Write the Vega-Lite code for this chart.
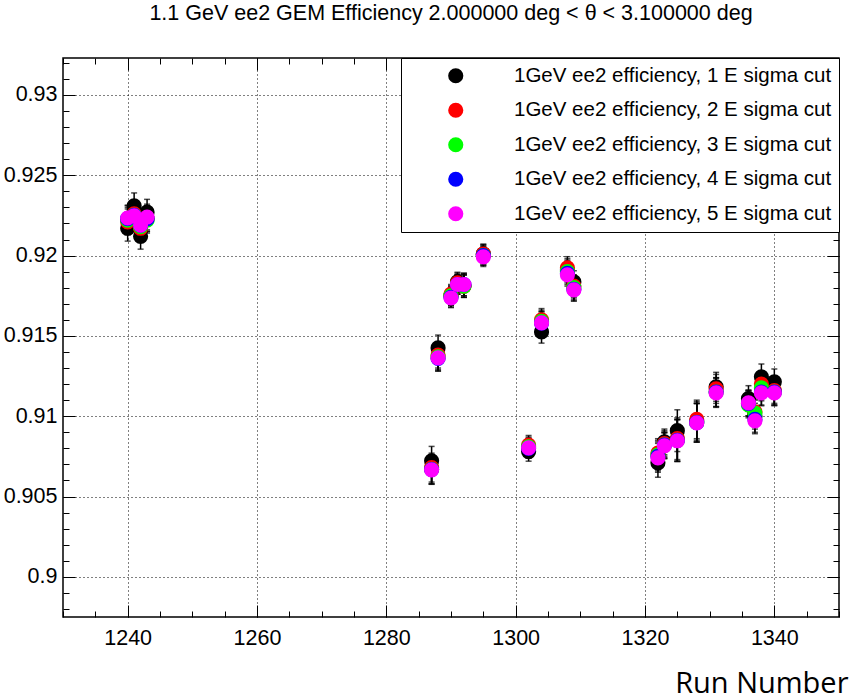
{
  "$schema": "https://vega.github.io/schema/vega-lite/v6.json",
  "width": 776,
  "height": 559,
  "autosize": {"type": "none"},
  "padding": {"left": 63, "top": 58, "right": 12, "bottom": 83},
  "background": "white",
  "config": {"view": {"stroke": "black", "strokeWidth": 1.5}, "font": "Liberation Sans"},
  "title": {"text": "1.1 GeV ee2 GEM Efficiency 2.000000 deg < θ < 3.100000 deg", "font": "Liberation Sans", "fontSize": 21.5, "fontWeight": "normal", "anchor": "middle", "offset": 33, "color": "black"},
  "data": {"values": [
    {"run": 1240, "cut": "1GeV ee2 efficiency, 1 E sigma cut", "eff": 0.9217, "err": 0.0008},
    {"run": 1241, "cut": "1GeV ee2 efficiency, 1 E sigma cut", "eff": 0.9231, "err": 0.0008},
    {"run": 1242, "cut": "1GeV ee2 efficiency, 1 E sigma cut", "eff": 0.9212, "err": 0.0008},
    {"run": 1243, "cut": "1GeV ee2 efficiency, 1 E sigma cut", "eff": 0.9227, "err": 0.0008},
    {"run": 1287, "cut": "1GeV ee2 efficiency, 1 E sigma cut", "eff": 0.90722, "err": 0.0009},
    {"run": 1288, "cut": "1GeV ee2 efficiency, 1 E sigma cut", "eff": 0.91425, "err": 0.0008},
    {"run": 1290, "cut": "1GeV ee2 efficiency, 1 E sigma cut", "eff": 0.9175, "err": 0.0006},
    {"run": 1291, "cut": "1GeV ee2 efficiency, 1 E sigma cut", "eff": 0.91836, "err": 0.0006},
    {"run": 1292, "cut": "1GeV ee2 efficiency, 1 E sigma cut", "eff": 0.9181, "err": 0.0007},
    {"run": 1295, "cut": "1GeV ee2 efficiency, 1 E sigma cut", "eff": 0.9201, "err": 0.0006},
    {"run": 1302, "cut": "1GeV ee2 efficiency, 1 E sigma cut", "eff": 0.9078, "err": 0.0006},
    {"run": 1304, "cut": "1GeV ee2 efficiency, 1 E sigma cut", "eff": 0.91525, "err": 0.0007},
    {"run": 1308, "cut": "1GeV ee2 efficiency, 1 E sigma cut", "eff": 0.9191, "err": 0.0007},
    {"run": 1309, "cut": "1GeV ee2 efficiency, 1 E sigma cut", "eff": 0.91836, "err": 0.0007},
    {"run": 1322, "cut": "1GeV ee2 efficiency, 1 E sigma cut", "eff": 0.9071, "err": 0.0009},
    {"run": 1323, "cut": "1GeV ee2 efficiency, 1 E sigma cut", "eff": 0.9084, "err": 0.0008},
    {"run": 1325, "cut": "1GeV ee2 efficiency, 1 E sigma cut", "eff": 0.9091, "err": 0.0013},
    {"run": 1328, "cut": "1GeV ee2 efficiency, 1 E sigma cut", "eff": 0.9097, "err": 0.0012},
    {"run": 1331, "cut": "1GeV ee2 efficiency, 1 E sigma cut", "eff": 0.91183, "err": 0.0009},
    {"run": 1336, "cut": "1GeV ee2 efficiency, 1 E sigma cut", "eff": 0.9111, "err": 0.0008},
    {"run": 1337, "cut": "1GeV ee2 efficiency, 1 E sigma cut", "eff": 0.91, "err": 0.0008},
    {"run": 1338, "cut": "1GeV ee2 efficiency, 1 E sigma cut", "eff": 0.91245, "err": 0.0008},
    {"run": 1340, "cut": "1GeV ee2 efficiency, 1 E sigma cut", "eff": 0.91214, "err": 0.0008},
    {"run": 1240, "cut": "1GeV ee2 efficiency, 2 E sigma cut", "eff": 0.9221, "err": 0.0008},
    {"run": 1241, "cut": "1GeV ee2 efficiency, 2 E sigma cut", "eff": 0.9226, "err": 0.0008},
    {"run": 1242, "cut": "1GeV ee2 efficiency, 2 E sigma cut", "eff": 0.9217, "err": 0.0008},
    {"run": 1243, "cut": "1GeV ee2 efficiency, 2 E sigma cut", "eff": 0.9223, "err": 0.0008},
    {"run": 1287, "cut": "1GeV ee2 efficiency, 2 E sigma cut", "eff": 0.9068, "err": 0.0009},
    {"run": 1288, "cut": "1GeV ee2 efficiency, 2 E sigma cut", "eff": 0.9138, "err": 0.0008},
    {"run": 1290, "cut": "1GeV ee2 efficiency, 2 E sigma cut", "eff": 0.9176, "err": 0.0006},
    {"run": 1291, "cut": "1GeV ee2 efficiency, 2 E sigma cut", "eff": 0.9183, "err": 0.0006},
    {"run": 1292, "cut": "1GeV ee2 efficiency, 2 E sigma cut", "eff": 0.9181, "err": 0.0007},
    {"run": 1295, "cut": "1GeV ee2 efficiency, 2 E sigma cut", "eff": 0.9201, "err": 0.0006},
    {"run": 1302, "cut": "1GeV ee2 efficiency, 2 E sigma cut", "eff": 0.9082, "err": 0.0006},
    {"run": 1304, "cut": "1GeV ee2 efficiency, 2 E sigma cut", "eff": 0.916, "err": 0.0007},
    {"run": 1308, "cut": "1GeV ee2 efficiency, 2 E sigma cut", "eff": 0.91923, "err": 0.0007},
    {"run": 1309, "cut": "1GeV ee2 efficiency, 2 E sigma cut", "eff": 0.9181, "err": 0.0007},
    {"run": 1322, "cut": "1GeV ee2 efficiency, 2 E sigma cut", "eff": 0.9077, "err": 0.0009},
    {"run": 1323, "cut": "1GeV ee2 efficiency, 2 E sigma cut", "eff": 0.9083, "err": 0.0008},
    {"run": 1325, "cut": "1GeV ee2 efficiency, 2 E sigma cut", "eff": 0.9086, "err": 0.0013},
    {"run": 1328, "cut": "1GeV ee2 efficiency, 2 E sigma cut", "eff": 0.9098, "err": 0.0012},
    {"run": 1331, "cut": "1GeV ee2 efficiency, 2 E sigma cut", "eff": 0.9117, "err": 0.0009},
    {"run": 1336, "cut": "1GeV ee2 efficiency, 2 E sigma cut", "eff": 0.9108, "err": 0.0008},
    {"run": 1337, "cut": "1GeV ee2 efficiency, 2 E sigma cut", "eff": 0.91027, "err": 0.0008},
    {"run": 1338, "cut": "1GeV ee2 efficiency, 2 E sigma cut", "eff": 0.912, "err": 0.0008},
    {"run": 1340, "cut": "1GeV ee2 efficiency, 2 E sigma cut", "eff": 0.9116, "err": 0.0008},
    {"run": 1240, "cut": "1GeV ee2 efficiency, 3 E sigma cut", "eff": 0.9222, "err": 0.0008},
    {"run": 1241, "cut": "1GeV ee2 efficiency, 3 E sigma cut", "eff": 0.9225, "err": 0.0008},
    {"run": 1242, "cut": "1GeV ee2 efficiency, 3 E sigma cut", "eff": 0.9218, "err": 0.0008},
    {"run": 1243, "cut": "1GeV ee2 efficiency, 3 E sigma cut", "eff": 0.9222, "err": 0.0008},
    {"run": 1287, "cut": "1GeV ee2 efficiency, 3 E sigma cut", "eff": 0.9067, "err": 0.0009},
    {"run": 1288, "cut": "1GeV ee2 efficiency, 3 E sigma cut", "eff": 0.9137, "err": 0.0008},
    {"run": 1290, "cut": "1GeV ee2 efficiency, 3 E sigma cut", "eff": 0.9175, "err": 0.0006},
    {"run": 1291, "cut": "1GeV ee2 efficiency, 3 E sigma cut", "eff": 0.9182, "err": 0.0006},
    {"run": 1292, "cut": "1GeV ee2 efficiency, 3 E sigma cut", "eff": 0.9181, "err": 0.0007},
    {"run": 1295, "cut": "1GeV ee2 efficiency, 3 E sigma cut", "eff": 0.92, "err": 0.0006},
    {"run": 1302, "cut": "1GeV ee2 efficiency, 3 E sigma cut", "eff": 0.9081, "err": 0.0006},
    {"run": 1304, "cut": "1GeV ee2 efficiency, 3 E sigma cut", "eff": 0.9159, "err": 0.0007},
    {"run": 1308, "cut": "1GeV ee2 efficiency, 3 E sigma cut", "eff": 0.919, "err": 0.0007},
    {"run": 1309, "cut": "1GeV ee2 efficiency, 3 E sigma cut", "eff": 0.918, "err": 0.0007},
    {"run": 1322, "cut": "1GeV ee2 efficiency, 3 E sigma cut", "eff": 0.9076, "err": 0.0009},
    {"run": 1323, "cut": "1GeV ee2 efficiency, 3 E sigma cut", "eff": 0.9082, "err": 0.0008},
    {"run": 1325, "cut": "1GeV ee2 efficiency, 3 E sigma cut", "eff": 0.9085, "err": 0.0013},
    {"run": 1328, "cut": "1GeV ee2 efficiency, 3 E sigma cut", "eff": 0.9096, "err": 0.0012},
    {"run": 1331, "cut": "1GeV ee2 efficiency, 3 E sigma cut", "eff": 0.9115, "err": 0.0009},
    {"run": 1336, "cut": "1GeV ee2 efficiency, 3 E sigma cut", "eff": 0.9107, "err": 0.0008},
    {"run": 1337, "cut": "1GeV ee2 efficiency, 3 E sigma cut", "eff": 0.9102, "err": 0.0008},
    {"run": 1338, "cut": "1GeV ee2 efficiency, 3 E sigma cut", "eff": 0.91176, "err": 0.0008},
    {"run": 1340, "cut": "1GeV ee2 efficiency, 3 E sigma cut", "eff": 0.9115, "err": 0.0008},
    {"run": 1240, "cut": "1GeV ee2 efficiency, 4 E sigma cut", "eff": 0.9223, "err": 0.0008},
    {"run": 1241, "cut": "1GeV ee2 efficiency, 4 E sigma cut", "eff": 0.9225, "err": 0.0008},
    {"run": 1242, "cut": "1GeV ee2 efficiency, 4 E sigma cut", "eff": 0.9219, "err": 0.0008},
    {"run": 1243, "cut": "1GeV ee2 efficiency, 4 E sigma cut", "eff": 0.9223, "err": 0.0008},
    {"run": 1287, "cut": "1GeV ee2 efficiency, 4 E sigma cut", "eff": 0.90668, "err": 0.0009},
    {"run": 1288, "cut": "1GeV ee2 efficiency, 4 E sigma cut", "eff": 0.9136, "err": 0.0008},
    {"run": 1290, "cut": "1GeV ee2 efficiency, 4 E sigma cut", "eff": 0.9174, "err": 0.0006},
    {"run": 1291, "cut": "1GeV ee2 efficiency, 4 E sigma cut", "eff": 0.9182, "err": 0.0006},
    {"run": 1292, "cut": "1GeV ee2 efficiency, 4 E sigma cut", "eff": 0.9182, "err": 0.0007},
    {"run": 1295, "cut": "1GeV ee2 efficiency, 4 E sigma cut", "eff": 0.92, "err": 0.0006},
    {"run": 1302, "cut": "1GeV ee2 efficiency, 4 E sigma cut", "eff": 0.908, "err": 0.0006},
    {"run": 1304, "cut": "1GeV ee2 efficiency, 4 E sigma cut", "eff": 0.9158, "err": 0.0007},
    {"run": 1308, "cut": "1GeV ee2 efficiency, 4 E sigma cut", "eff": 0.9189, "err": 0.0007},
    {"run": 1309, "cut": "1GeV ee2 efficiency, 4 E sigma cut", "eff": 0.9179, "err": 0.0007},
    {"run": 1322, "cut": "1GeV ee2 efficiency, 4 E sigma cut", "eff": 0.9075, "err": 0.0009},
    {"run": 1323, "cut": "1GeV ee2 efficiency, 4 E sigma cut", "eff": 0.9082, "err": 0.0008},
    {"run": 1325, "cut": "1GeV ee2 efficiency, 4 E sigma cut", "eff": 0.9085, "err": 0.0013},
    {"run": 1328, "cut": "1GeV ee2 efficiency, 4 E sigma cut", "eff": 0.9096, "err": 0.0012},
    {"run": 1331, "cut": "1GeV ee2 efficiency, 4 E sigma cut", "eff": 0.9115, "err": 0.0009},
    {"run": 1336, "cut": "1GeV ee2 efficiency, 4 E sigma cut", "eff": 0.9108, "err": 0.0008},
    {"run": 1337, "cut": "1GeV ee2 efficiency, 4 E sigma cut", "eff": 0.9098, "err": 0.0008},
    {"run": 1338, "cut": "1GeV ee2 efficiency, 4 E sigma cut", "eff": 0.9115, "err": 0.0008},
    {"run": 1340, "cut": "1GeV ee2 efficiency, 4 E sigma cut", "eff": 0.9115, "err": 0.0008},
    {"run": 1240, "cut": "1GeV ee2 efficiency, 5 E sigma cut", "eff": 0.92234, "err": 0.0008},
    {"run": 1241, "cut": "1GeV ee2 efficiency, 5 E sigma cut", "eff": 0.92247, "err": 0.0008},
    {"run": 1242, "cut": "1GeV ee2 efficiency, 5 E sigma cut", "eff": 0.9219, "err": 0.0008},
    {"run": 1243, "cut": "1GeV ee2 efficiency, 5 E sigma cut", "eff": 0.9224, "err": 0.0008},
    {"run": 1287, "cut": "1GeV ee2 efficiency, 5 E sigma cut", "eff": 0.90666, "err": 0.0009},
    {"run": 1288, "cut": "1GeV ee2 efficiency, 5 E sigma cut", "eff": 0.91363, "err": 0.0008},
    {"run": 1290, "cut": "1GeV ee2 efficiency, 5 E sigma cut", "eff": 0.91736, "err": 0.0006},
    {"run": 1291, "cut": "1GeV ee2 efficiency, 5 E sigma cut", "eff": 0.9182, "err": 0.0006},
    {"run": 1292, "cut": "1GeV ee2 efficiency, 5 E sigma cut", "eff": 0.9182, "err": 0.0007},
    {"run": 1295, "cut": "1GeV ee2 efficiency, 5 E sigma cut", "eff": 0.91992, "err": 0.0006},
    {"run": 1302, "cut": "1GeV ee2 efficiency, 5 E sigma cut", "eff": 0.90803, "err": 0.0006},
    {"run": 1304, "cut": "1GeV ee2 efficiency, 5 E sigma cut", "eff": 0.91581, "err": 0.0007},
    {"run": 1308, "cut": "1GeV ee2 efficiency, 5 E sigma cut", "eff": 0.9188, "err": 0.0007},
    {"run": 1309, "cut": "1GeV ee2 efficiency, 5 E sigma cut", "eff": 0.91786, "err": 0.0007},
    {"run": 1322, "cut": "1GeV ee2 efficiency, 5 E sigma cut", "eff": 0.90741, "err": 0.0009},
    {"run": 1323, "cut": "1GeV ee2 efficiency, 5 E sigma cut", "eff": 0.90815, "err": 0.0008},
    {"run": 1325, "cut": "1GeV ee2 efficiency, 5 E sigma cut", "eff": 0.90847, "err": 0.0013},
    {"run": 1328, "cut": "1GeV ee2 efficiency, 5 E sigma cut", "eff": 0.90958, "err": 0.0012},
    {"run": 1331, "cut": "1GeV ee2 efficiency, 5 E sigma cut", "eff": 0.91145, "err": 0.0009},
    {"run": 1336, "cut": "1GeV ee2 efficiency, 5 E sigma cut", "eff": 0.91083, "err": 0.0008},
    {"run": 1337, "cut": "1GeV ee2 efficiency, 5 E sigma cut", "eff": 0.90971, "err": 0.0008},
    {"run": 1338, "cut": "1GeV ee2 efficiency, 5 E sigma cut", "eff": 0.91145, "err": 0.0008},
    {"run": 1340, "cut": "1GeV ee2 efficiency, 5 E sigma cut", "eff": 0.91145, "err": 0.0008}
  ]},
  "layer": [
    {
      "mark": {"type": "errorbar", "ticks": {"size": 6}, "color": "black", "thickness": 1.5},
      "encoding": {
        "x": {"field": "run", "type": "quantitative", "scale": {"domain": [1230, 1350], "nice": false, "zero": false},
          "axis": {"orient": "bottom", "values": [1240, 1260, 1280, 1300, 1320, 1340], "format": "d", "domain": false, "ticks": true, "tickSize": -12, "tickColor": "black", "tickWidth": 1,
            "grid": true, "gridColor": "black", "gridDash": [1, 3], "gridOpacity": 1, "gridWidth": 1,
            "labelFont": "Liberation Sans", "labelFontSize": 21.5, "labelColor": "black", "labelPadding": 22,
            "title": "Run Number", "titleFont": "Open Sans", "titleFontSize": 29, "titleFontWeight": "normal", "titleColor": "black", "titleAnchor": "end", "titleAlign": "right", "titleX": 785, "titleY": 75, "titleBaseline": "alphabetic"}},
        "y": {"field": "eff", "type": "quantitative", "scale": {"domain": [0.8975, 0.9323], "nice": false, "zero": false},
          "axis": {"orient": "left", "values": [0.9, 0.905, 0.91, 0.915, 0.92, 0.925, 0.93], "format": "~g", "domain": false, "ticks": true, "tickSize": -12, "tickColor": "black", "tickWidth": 1,
            "grid": true, "gridColor": "black", "gridDash": [1, 3], "gridOpacity": 1, "gridWidth": 1,
            "labelFont": "Liberation Sans", "labelFontSize": 21.5, "labelColor": "black", "labelPadding": 18, "title": null}},
        "yError": {"field": "err"}
      }
    },
    {
      "mark": {"type": "circle", "size": 230, "opacity": 1},
      "encoding": {
        "x": {"field": "run", "type": "quantitative", "axis": {"orient": "bottom", "values": [1230, 1235, 1240, 1245, 1250, 1255, 1260, 1265, 1270, 1275, 1280, 1285, 1290, 1295, 1300, 1305, 1310, 1315, 1320, 1325, 1330, 1335, 1340, 1345, 1350], "labels": false, "domain": false, "grid": false, "tickSize": -6, "tickColor": "black", "title": null}},
        "y": {"field": "eff", "type": "quantitative", "axis": {"orient": "left", "values": [0.898, 0.899, 0.9, 0.901, 0.902, 0.903, 0.904, 0.905, 0.906, 0.907, 0.908, 0.909, 0.91, 0.911, 0.912, 0.913, 0.914, 0.915, 0.916, 0.917, 0.918, 0.919, 0.92, 0.921, 0.922, 0.923, 0.924, 0.925, 0.926, 0.927, 0.928, 0.929, 0.93, 0.931, 0.932], "labels": false, "domain": false, "grid": false, "tickSize": -6, "tickColor": "black", "title": null}},
        "color": {"field": "cut", "type": "nominal",
          "scale": {"domain": ["1GeV ee2 efficiency, 1 E sigma cut", "1GeV ee2 efficiency, 2 E sigma cut", "1GeV ee2 efficiency, 3 E sigma cut", "1GeV ee2 efficiency, 4 E sigma cut", "1GeV ee2 efficiency, 5 E sigma cut"], "range": ["#000000", "#ff0000", "#00ff00", "#0000ff", "#ff00ff"]},
          "legend": {"orient": "none", "legendX": 338, "legendY": 0, "title": null, "fillColor": "white", "strokeColor": "black", "padding": 7.5,
            "labelFont": "Liberation Sans", "labelFontSize": 20.5, "labelColor": "black", "labelLimit": 0,
            "symbolType": "circle", "symbolSize": 230, "symbolStrokeWidth": 0, "symbolOpacity": 1, "symbolOffset": 37, "labelOffset": 48, "rowPadding": 13.5}}
      }
    },
    {
      "mark": {"type": "point", "opacity": 0},
      "encoding": {
        "x": {"field": "run", "type": "quantitative", "axis": {"orient": "top", "values": [1240, 1260, 1280, 1300, 1320, 1340], "labels": false, "domain": false, "grid": false, "tickSize": -12, "tickColor": "black", "title": null}},
        "y": {"field": "eff", "type": "quantitative", "axis": {"orient": "right", "values": [0.9, 0.905, 0.91, 0.915, 0.92, 0.925, 0.93], "labels": false, "domain": false, "grid": false, "tickSize": -12, "tickColor": "black", "title": null}}
      }
    },
    {
      "mark": {"type": "point", "opacity": 0},
      "encoding": {
        "x": {"field": "run", "type": "quantitative", "axis": {"orient": "top", "values": [1230, 1235, 1240, 1245, 1250, 1255, 1260, 1265, 1270, 1275, 1280, 1285, 1290, 1295, 1300, 1305, 1310, 1315, 1320, 1325, 1330, 1335, 1340, 1345, 1350], "labels": false, "domain": false, "grid": false, "tickSize": -6, "tickColor": "black", "title": null}},
        "y": {"field": "eff", "type": "quantitative", "axis": {"orient": "right", "values": [0.898, 0.899, 0.9, 0.901, 0.902, 0.903, 0.904, 0.905, 0.906, 0.907, 0.908, 0.909, 0.91, 0.911, 0.912, 0.913, 0.914, 0.915, 0.916, 0.917, 0.918, 0.919, 0.92, 0.921, 0.922, 0.923, 0.924, 0.925, 0.926, 0.927, 0.928, 0.929, 0.93, 0.931, 0.932], "labels": false, "domain": false, "grid": false, "tickSize": -6, "tickColor": "black", "title": null}}
      }
    }
  ],
  "resolve": {"axis": {"x": "independent", "y": "independent"}}
}
